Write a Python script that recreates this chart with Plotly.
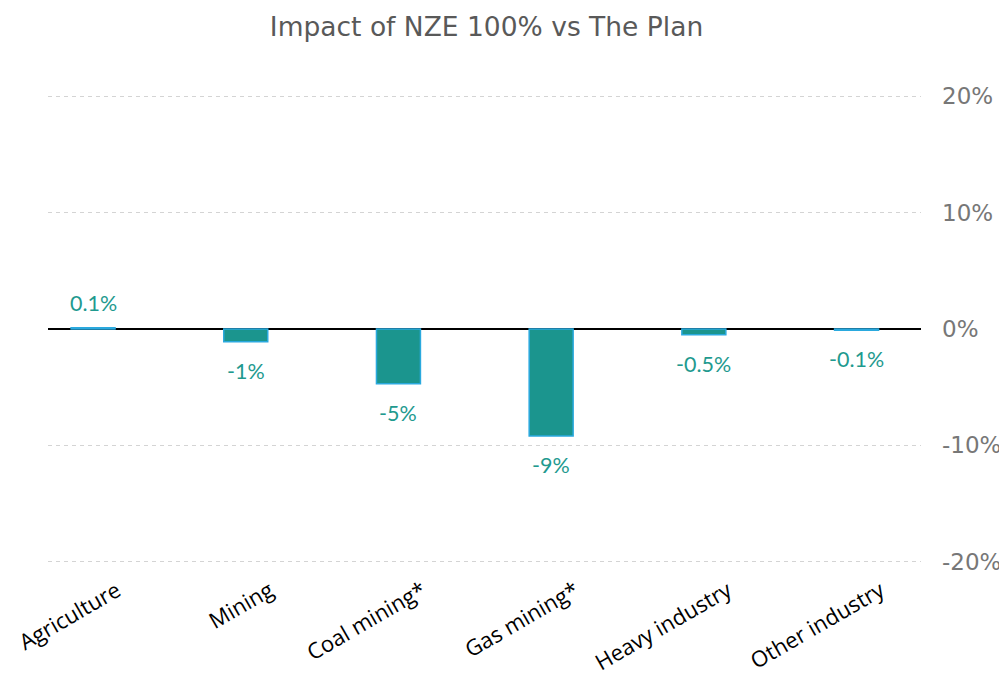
import plotly.graph_objects as go

categories = ["Agriculture", "Mining", "Coal mining*", "Gas mining*", "Heavy industry", "Other industry"]
values = [0.1, -1.1, -4.7, -9.2, -0.5, -0.1]
labels = ["0.1%", "-1%", "-5%", "-9%", "-0.5%", "-0.1%"]
tick_vals = [-20, -10, 0, 10, 20]
tick_text = ["-20%", "-10%", "0%", "10%", "20%"]

fig = go.Figure()
fig.add_trace(go.Bar(
    x=list(range(len(categories))), y=values,
    width=0.288,
    marker=dict(color="#1b958e", line=dict(color="#2aa9de", width=1.5)),
    hoverinfo="skip",
))

for i, (v, t) in enumerate(zip(values, labels)):
    fig.add_annotation(x=i, y=v, text=t, showarrow=False,
                       yanchor="middle", yshift=(25 if v > 0 else -29),
                       font=dict(family="Lato", size=21.5, color="#1f9a8f"))

fig.update_layout(
    width=999, height=674,
    paper_bgcolor="white", plot_bgcolor="white",
    margin=dict(l=40, r=86, t=86, b=118),
    showlegend=False,
    title=dict(text="Impact of NZE 100% vs The Plan", x=0.479, xanchor="center",
               y=0.972, yanchor="middle",
               font=dict(family="DejaVu Sans", size=26.5, color="#595959")),
    xaxis=dict(
        range=[-0.295, 5.422], automargin=False,
        tickmode="array", tickvals=list(range(len(categories))), ticktext=categories,
        tickangle=-30, showgrid=False, zeroline=False, showline=False, ticks="",
        tickfont=dict(family="Open Sans", size=22, color="#000000"),
        ticklabelshift=24, ticklabelstandoff=9, ticklabeloverflow="allow",
    ),
    yaxis=dict(
        side="right", range=[-20.2, 20.2], automargin=False,
        tickmode="array", tickvals=tick_vals, ticktext=tick_text,
        showgrid=True, gridcolor="#d4d4d4", griddash="4px,4px", gridwidth=1,
        zeroline=True, zerolinecolor="#000000", zerolinewidth=2,
        showline=False, ticks="",
        tickfont=dict(family="DejaVu Sans", size=23, color="#777777"),
        ticklabelstandoff=20,
    ),
)

fig.write_html("out.html")
